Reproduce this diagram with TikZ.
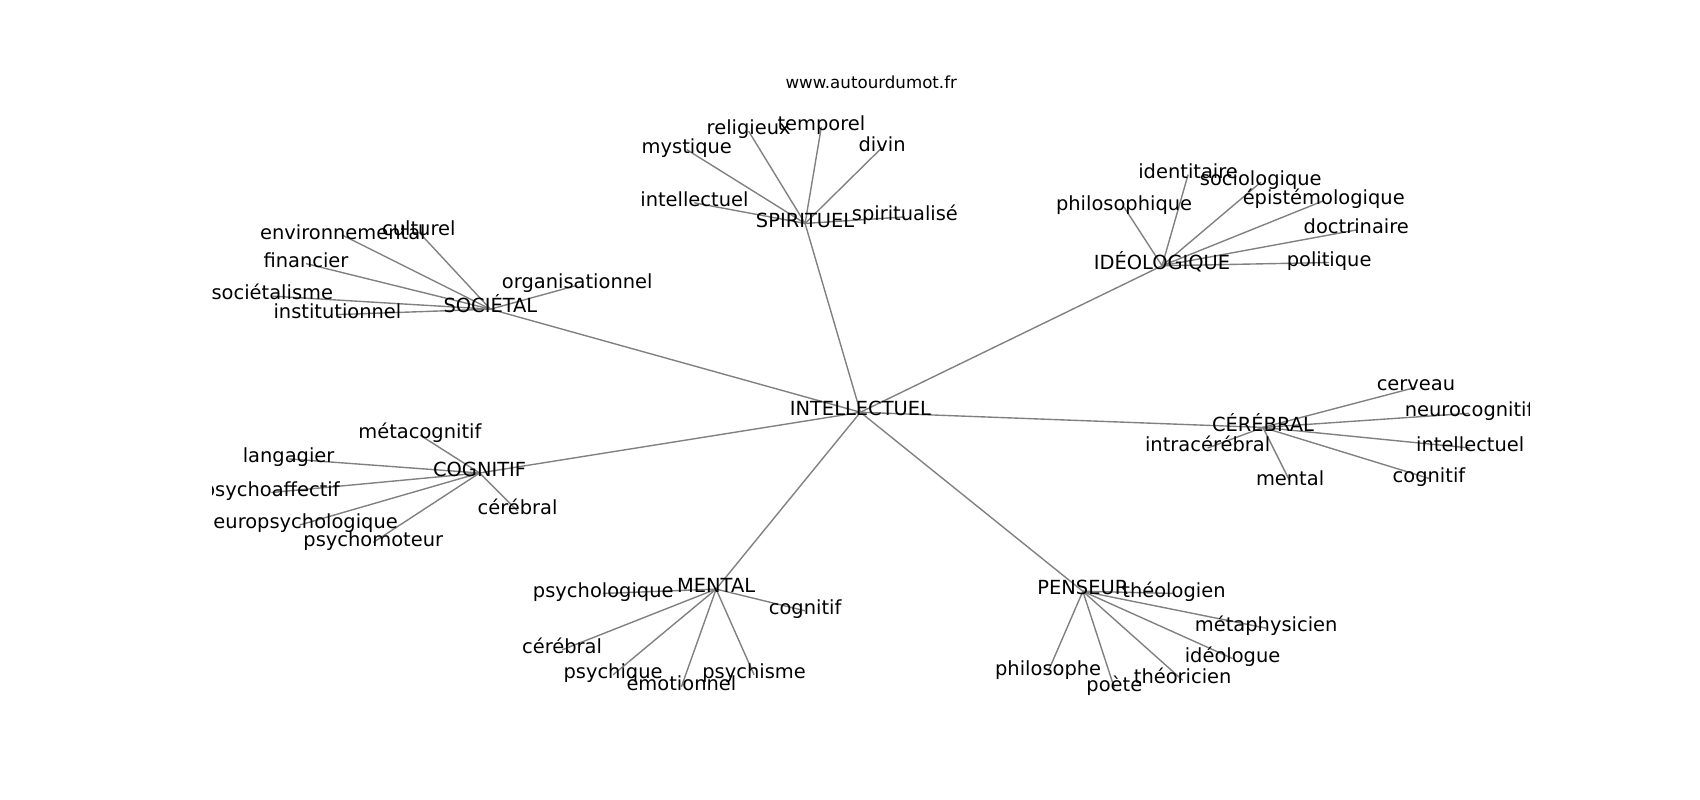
\documentclass[tikz,border=0pt]{standalone}
\usepackage{fontspec}
\setmainfont{DejaVu Sans}
\usetikzlibrary{backgrounds}
\tikzset{
  lbl/.style={inner sep=0pt, anchor=center, yshift=-2.3pt, text height=0.74em, text depth=0.22em, font=\fontsize{14}{17}\selectfont},
  ttl/.style={inner sep=0pt, anchor=center, font=\fontsize{12}{14}\selectfont},
  edge/.style={draw=gray, line width=1pt}
}
\begin{document}
\begin{tikzpicture}[x=0.7812pt,y=-0.7812pt]
\useasboundingbox (0,0) rectangle (1566.8,737.3);
\node[ttl] (title) at (803,76) {www.autourdumot.fr};
\begin{scope}
\clip (195.9,88.5) rectangle (1410.1,656.2);
% centre
\node[lbl] (c) at (793,377) {INTELLECTUEL};
% hubs
\node[lbl] (sp) at (742,203) {SPIRITUEL};
\node[lbl] (so) at (452,282) {SOCIÉTAL};
\node[lbl] (id) at (1071,242) {IDÉOLOGIQUE};
\node[lbl] (ce) at (1164,391) {CÉRÉBRAL};
\node[lbl] (co) at (442,433) {COGNITIF};
\node[lbl] (me) at (660,540) {MENTAL};
\node[lbl] (pe) at (998,542) {PENSEUR};
% spirituel
\node[lbl] (sp1) at (690,118) {religieux};
\node[lbl] (sp2) at (757,114) {temporel};
\node[lbl] (sp3) at (633,135) {mystique};
\node[lbl] (sp4) at (813,133) {divin};
\node[lbl] (sp5) at (640,184) {intellectuel};
\node[lbl] (sp6) at (834,197) {spiritualisé};
% societal
\node[lbl] (so1) at (386,211) {culturel};
\node[lbl] (so2) at (316,214) {environnemental};
\node[lbl] (so3) at (282,240) {financier};
\node[lbl] (so4) at (532,260) {organisationnel};
\node[lbl] (so5) at (251,270) {sociétalisme};
\node[lbl] (so6) at (311,287) {institutionnel};
% ideologique
\node[lbl] (id1) at (1095,158) {identitaire};
\node[lbl] (id2) at (1162,165) {sociologique};
\node[lbl] (id3) at (1036,188) {philosophique};
\node[lbl] (id4) at (1220,182) {épistémologique};
\node[lbl] (id5) at (1250,209) {doctrinaire};
\node[lbl] (id6) at (1225,239) {politique};
% cerebral
\node[lbl] (ce1) at (1305,354) {cerveau};
\node[lbl] (ce2) at (1354,378) {neurocognitif};
\node[lbl] (ce3) at (1355,410) {intellectuel};
\node[lbl] (ce4) at (1113,410) {intracérébral};
\node[lbl] (ce5) at (1189,441) {mental};
\node[lbl] (ce6) at (1317,438) {cognitif};
% cognitif
\node[lbl] (co1) at (387,398) {métacognitif};
\node[lbl] (co2) at (266,420) {langagier};
\node[lbl] (co3) at (250,451) {psychoaffectif};
\node[lbl] (co4) at (276,481) {neuropsychologique};
\node[lbl] (co5) at (344,497) {psychomoteur};
\node[lbl] (co6) at (477,468) {cérébral};
% mental
\node[lbl] (me1) at (556,544) {psychologique};
\node[lbl] (me2) at (742,560) {cognitif};
\node[lbl] (me3) at (518,596) {cérébral};
\node[lbl] (me4) at (565,619) {psychique};
\node[lbl] (me5) at (628,630) {émotionnel};
\node[lbl] (me6) at (695,619) {psychisme};
% penseur
\node[lbl] (pe1) at (1082,544) {théologien};
\node[lbl] (pe2) at (1167,576) {métaphysicien};
\node[lbl] (pe3) at (966,616) {philosophe};
\node[lbl] (pe4) at (1136,604) {idéologue};
\node[lbl] (pe5) at (1027,631) {poète};
\node[lbl] (pe6) at (1090,624) {théoricien};
\end{scope}
\begin{pgfonlayer}{background}
\foreach \h in {sp,so,id,ce,co,me,pe}{
  \draw[edge] (c.center) -- (\h.center);
  \foreach \i in {1,...,6}{
    \draw[edge] (\h.center) -- (\h\i.center);
  }
}
\end{pgfonlayer}
\end{tikzpicture}
\end{document}
